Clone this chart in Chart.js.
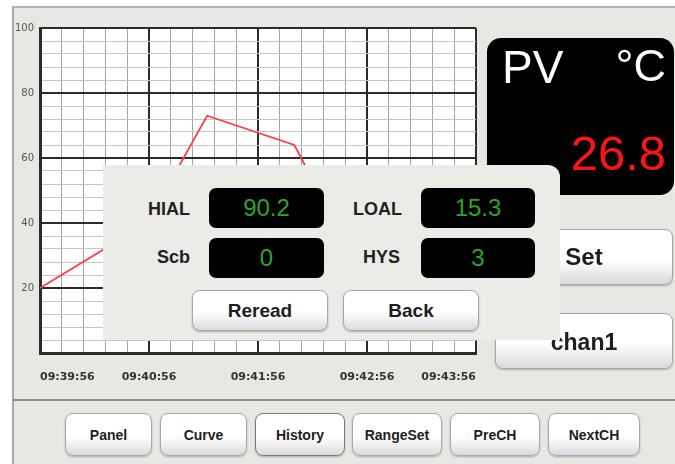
<!DOCTYPE html>
<html>
<head>
<meta charset="utf-8">
<title>PV curve</title>
<script src="https://cdn.jsdelivr.net/npm/chart.js@4.4.1/dist/chart.umd.min.js"></script>
<style>
  html, body { margin: 0; padding: 0; background: #fff; }
  body { width: 675px; height: 464px; position: relative; overflow: hidden;
         font-family: "Liberation Sans", Arial, sans-serif; }
  .abs { position: absolute; box-sizing: border-box; }
  #panel { left: 12px; top: 6px; width: 663px; height: 458px; background: #e7e7e3;
           border-left: 2px solid #a9a9a9; border-top: 2px solid #b5b5b5; }
  #chartBox { left: 12px; top: 6px; width: 482px; height: 394px; }
  #sep { left: 13px; top: 399px; width: 662px; height: 2px; background: #8e8e8e; }
  #pv { left: 487px; top: 38px; width: 187px; height: 157px; background: #000; border-radius: 14px; }
  .pvtxt { position: absolute; font-family: "Liberation Sans", Arial, sans-serif; white-space: nowrap; }
  .btn { position: absolute; box-sizing: border-box; border: 1px solid #a8a8a8; border-radius: 8px;
         background: linear-gradient(#ffffff 0%, #ffffff 55%, #dadada 100%);
         box-shadow: 0 1px 2px rgba(0,0,0,0.25); font-weight: bold; color: #1e1e1e;
         display: flex; align-items: center; justify-content: center; white-space: nowrap; }
  #popup { left: 103px; top: 165px; width: 457px; height: 175px; background: #ebebe7;
           border-radius: 0 12px 0 0; }
  .lbl { position: absolute; font-size: 18px; font-weight: bold; color: #222; text-align: right;
         width: 80px; height: 22px; line-height: 22px; }
  .val { position: absolute; background: #000; border-radius: 7px; color: #2aa52a; font-size: 24px;
         display: flex; align-items: center; justify-content: center; }
  .nav { top: 413px; height: 43px; font-size: 14px; }
</style>
</head>
<body>
<div id="panel" class="abs"></div>
<div id="chartBox" class="abs"><canvas id="curve" width="482" height="394"></canvas></div>
<div id="sep" class="abs"></div>

<div id="pv" class="abs">
  <span class="pvtxt" style="left:15px; top:2px; font-size:46px; color:#fff;">PV</span>
  <span class="pvtxt" style="right:8px; top:2px; font-size:45px; color:#fff;">°C</span>
  <span class="pvtxt" style="right:8px; top:87px; font-size:49px; color:#ff1414;">26.8</span>
</div>

<div class="btn" style="left:495px; top:229px; width:178px; height:56px; font-size:24px;">Set</div>
<div class="btn" style="left:495px; top:313px; width:178px; height:56px; font-size:23px; padding-top:2px;">chan1</div>

<div id="popup" class="abs"></div>
<div class="lbl" style="left:110px; top:198px;">HIAL</div>
<div class="val" style="left:209px; top:188px; width:115px; height:40px;">90.2</div>
<div class="lbl" style="left:110px; top:246px;">Scb</div>
<div class="val" style="left:209px; top:238px; width:115px; height:40px;">0</div>
<div class="lbl" style="left:322px; top:198px;">LOAL</div>
<div class="val" style="left:421px; top:188px; width:114px; height:40px;">15.3</div>
<div class="lbl" style="left:320px; top:246px;">HYS</div>
<div class="val" style="left:421px; top:238px; width:114px; height:40px;">3</div>
<div class="btn" style="left:192px; top:290px; width:136px; height:41px; font-size:19px;">Reread</div>
<div class="btn" style="left:343px; top:290px; width:136px; height:41px; font-size:19px;">Back</div>

<div class="btn nav" style="left:65px; width:87px;">Panel</div>
<div class="btn nav" style="left:160px; width:87px;">Curve</div>
<div class="btn nav" style="left:255px; width:90px; border-color:#7a7a7a;">History</div>
<div class="btn nav" style="left:352px; width:90px;">RangeSet</div>
<div class="btn nav" style="left:450px; width:90px;">PreCH</div>
<div class="btn nav" style="left:548px; width:92px;">NextCH</div>

<script>
// recorded samples (seconds after 09:39:56) and PV readings
const sampleSeconds = [0, 59, 92, 140, 175];
const pvValues = [20, 40, 73, 64, 27];

// axis labels
const timeLabels = ["09:39:56", "09:40:56", "09:41:56", "09:42:56", "09:43:56"];
const yTickLabels = [20, 40, 60, 80, 100];

const MAJOR = "#2b2b2b";

const plotBackground = {
    id: "plotBackground",
    beforeDraw(chart) {
        const { ctx, chartArea: a } = chart;
        ctx.save();
        ctx.fillStyle = "#ffffff";
        ctx.fillRect(a.left, a.top, a.right - a.left, a.bottom - a.top);
        ctx.restore();
    }
};

function isMajor(value, step) {
    return Math.abs(value / step - Math.round(value / step)) < 1e-6;
}

const points = sampleSeconds.map((s, i) => ({ x: s, y: pvValues[i] }));

new Chart(document.getElementById("curve"), {
    type: "line",
    data: {
        datasets: [
            {
                label: "PV",
                data: points,
                borderColor: "#ff3b47",
                borderWidth: 1.8,
                pointRadius: 0,
                tension: 0,
                fill: false
            }
        ]
    },
    options: {
        responsive: false,
        animation: false,
        devicePixelRatio: 1,
        layout: { padding: { top: 22, right: 5, left: 0, bottom: 0 } },
        plugins: {
            legend: { display: false },
            tooltip: { enabled: false }
        },
        scales: {
            x: {
                type: "linear",
                min: 0,
                max: 240,
                afterFit: (scale) => { scale.height = 47; },
                ticks: {
                    stepSize: 12,
                    autoSkip: false,
                    maxRotation: 0,
                    align: "inner",
                    padding: 18,
                    color: "#333",
                    font: { family: "DejaVu Sans", size: 11, weight: "bold" },
                    callback: (v) => isMajor(v, 60) ? timeLabels[Math.round(v / 60)] : ""
                },
                grid: {
                    drawTicks: false,
                    color: (c) => isMajor(c.tick.value, 60) ? MAJOR : "#a3a3a3",
                    lineWidth: (c) => isMajor(c.tick.value, 60) ? 2 : 1
                },
                border: { color: MAJOR, width: 3 }
            },
            y: {
                min: 0,
                max: 100,
                afterFit: (scale) => { scale.width = 28; },
                ticks: {
                    stepSize: 4,
                    autoSkip: false,
                    padding: 6,
                    color: "#555",
                    font: { family: "DejaVu Sans", size: 10 },
                    callback: (v) => yTickLabels.includes(Math.round(v)) && isMajor(v, 20) ? String(Math.round(v)) : ""
                },
                grid: {
                    drawTicks: false,
                    color: (c) => isMajor(c.tick.value, 20) ? MAJOR : "#c6c6c6",
                    lineWidth: (c) => isMajor(c.tick.value, 20) ? 2 : 1
                },
                border: { color: MAJOR, width: 3 }
            }
        }
    },
    plugins: [plotBackground]
});
</script>
</body>
</html>
